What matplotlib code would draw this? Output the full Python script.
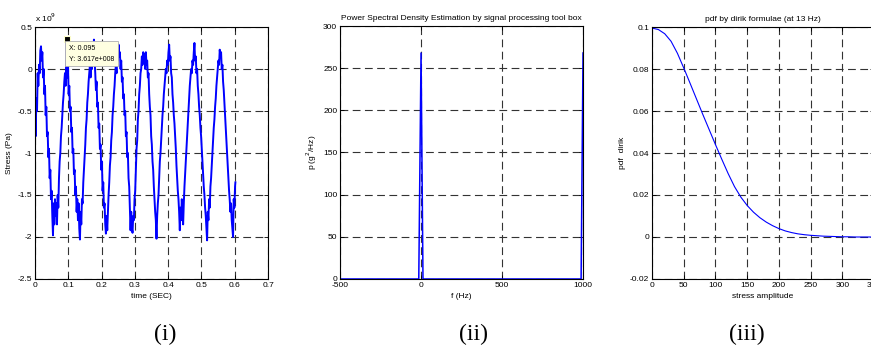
import matplotlib
matplotlib.use("Agg")
import matplotlib.pyplot as plt

plt.rcParams["font.family"] = ["Liberation Sans", "DejaVu Sans"]
plt.rcParams["axes.unicode_minus"] = False

# ===== DATA =====
# (i) stress time history, stress in units of 1e9 Pa
time_sec = [
    0.000, 0.002, 0.004, 0.006, 0.008, 0.010, 0.012, 0.014, 0.016, 0.018,
    0.020, 0.022, 0.024, 0.026, 0.028, 0.030, 0.032, 0.034, 0.036, 0.038,
    0.040, 0.042, 0.044, 0.046, 0.048, 0.050, 0.052, 0.054, 0.056, 0.058,
    0.060, 0.062, 0.064, 0.066, 0.068, 0.070, 0.072, 0.074, 0.076, 0.078,
    0.080, 0.082, 0.084, 0.086, 0.088, 0.090, 0.092, 0.094, 0.095, 0.097,
    0.099, 0.101, 0.103, 0.105, 0.107, 0.109, 0.111, 0.113, 0.115, 0.117,
    0.119, 0.121, 0.123, 0.125, 0.127, 0.129, 0.131, 0.133, 0.135, 0.137,
    0.139, 0.141, 0.143, 0.145, 0.147, 0.149, 0.151, 0.153, 0.155, 0.157,
    0.159, 0.161, 0.163, 0.165, 0.167, 0.169, 0.171, 0.173, 0.175, 0.177,
    0.179, 0.181, 0.183, 0.185, 0.187, 0.189, 0.191, 0.193, 0.195, 0.197,
    0.199, 0.201, 0.203, 0.205, 0.207, 0.209, 0.211, 0.213, 0.215, 0.217,
    0.219, 0.221, 0.223, 0.225, 0.227, 0.229, 0.231, 0.233, 0.235, 0.237,
    0.239, 0.241, 0.243, 0.245, 0.247, 0.249, 0.251, 0.253, 0.255, 0.257,
    0.259, 0.261, 0.263, 0.265, 0.267, 0.269, 0.271, 0.273, 0.275, 0.277,
    0.279, 0.281, 0.283, 0.285, 0.287, 0.289, 0.291, 0.293, 0.295, 0.297,
    0.299, 0.301, 0.303, 0.305, 0.307, 0.309, 0.311, 0.313, 0.315, 0.317,
    0.319, 0.321, 0.323, 0.325, 0.327, 0.329, 0.331, 0.333, 0.335, 0.337,
    0.339, 0.341, 0.343, 0.345, 0.347, 0.349, 0.351, 0.353, 0.355, 0.357,
    0.359, 0.361, 0.363, 0.365, 0.367, 0.369, 0.371, 0.373, 0.375, 0.377,
    0.379, 0.381, 0.383, 0.385, 0.387, 0.389, 0.391, 0.393, 0.395, 0.397,
    0.399, 0.401, 0.403, 0.405, 0.407, 0.409, 0.411, 0.413, 0.415, 0.417,
    0.419, 0.421, 0.423, 0.425, 0.427, 0.429, 0.431, 0.433, 0.435, 0.437,
    0.439, 0.441, 0.443, 0.445, 0.447, 0.449, 0.451, 0.453, 0.455, 0.457,
    0.459, 0.461, 0.463, 0.465, 0.467, 0.469, 0.471, 0.473, 0.475, 0.477,
    0.479, 0.481, 0.483, 0.485, 0.487, 0.489, 0.491, 0.493, 0.495, 0.497,
    0.499, 0.501, 0.503, 0.505, 0.507, 0.509, 0.511, 0.513, 0.515, 0.517,
    0.519, 0.521, 0.523, 0.525, 0.527, 0.529, 0.531, 0.533, 0.535, 0.537,
    0.539, 0.541, 0.543, 0.545, 0.547, 0.549, 0.551, 0.553, 0.555, 0.557,
    0.559, 0.561, 0.563, 0.565, 0.567, 0.569, 0.571, 0.573, 0.575, 0.577,
    0.579, 0.581, 0.583, 0.585, 0.587, 0.589, 0.591, 0.593, 0.595, 0.597,
    0.599, 0.601, 0.602,
]
stress_e9 = [
    -0.55, -0.80, -0.35, -0.50, -0.05, -0.20, 0.05, -0.05, 0.22, 0.27,
    0.10, 0.20, -0.10, 0.00, -0.30, -0.20, -0.55, -0.45, -0.80, -0.75,
    -1.05, -0.95, -1.30, -1.20, -1.55, -1.45, -1.75, -1.98, -1.60, -1.85,
    -1.55, -1.75, -1.60, -1.85, -1.50, -1.65, -1.30, -1.10, -1.00, -0.80,
    -0.70, -0.55, -0.40, -0.30, -0.15, -0.05, -0.20, 0.20, 0.36, -0.10,
    0.05, -0.30, -0.20, -0.50, -0.45, -0.75, -0.70, -1.00, -0.95, -1.25,
    -1.20, -1.50, -1.40, -1.70, -1.55, -1.80, -1.60, -1.90, -2.03, -1.70,
    -1.85, -1.55, -1.60, -1.35, -1.20, -1.05, -0.90, -0.70, -0.60, -0.40,
    -0.30, -0.15, -0.05, 0.05, -0.10, 0.15, 0.00, 0.20, 0.05, 0.35,
    0.10, -0.05, -0.25, -0.15, -0.45, -0.40, -0.70, -0.65, -0.95, -0.90,
    -1.20, -1.10, -1.45, -1.35, -1.65, -1.60, -1.85, -1.96, -1.75, -1.92,
    -1.70, -1.50, -1.35, -1.15, -1.05, -0.85, -0.75, -0.55, -0.45, -0.30,
    -0.20, -0.05, 0.05, -0.05, 0.20, 0.10, 0.29, 0.15, 0.20, 0.00,
    0.10, -0.15, -0.10, -0.35, -0.30, -0.55, -0.50, -0.80, -0.75, -1.05,
    -1.00, -1.30, -1.40, -1.65, -1.92, -1.70, -1.90, -1.95, -1.75, -1.80,
    -1.55, -1.45, -1.20, -0.95, -0.85, -0.60, -0.50, -0.30, -0.20, -0.05,
    0.00, 0.15, 0.05, 0.20, 0.10, 0.18, 0.00, 0.20, 0.05, 0.10,
    -0.10, -0.05, -0.30, -0.45, -0.55, -0.80, -0.90, -1.10, -1.20, -1.40,
    -1.55, -1.70, -1.80, -2.02, -1.75, -1.60, -1.50, -1.30, -1.10, -1.00,
    -0.85, -0.70, -0.55, -0.45, -0.30, -0.20, -0.10, 0.00, -0.05, 0.10,
    0.05, 0.20, 0.29, 0.10, 0.15, -0.05, -0.10, -0.30, -0.40, -0.55,
    -0.65, -0.80, -0.95, -1.15, -1.30, -1.45, -1.55, -1.70, -1.92, -1.65,
    -1.80, -1.55, -1.70, -1.85, -1.60, -1.40, -1.25, -1.10, -0.95, -0.80,
    -0.65, -0.50, -0.35, -0.20, -0.10, 0.00, -0.05, 0.10, 0.05, 0.20,
    0.31, 0.10, 0.15, -0.05, 0.00, -0.20, -0.30, -0.45, -0.55, -0.70,
    -0.80, -0.95, -1.10, -1.25, -1.40, -1.50, -1.65, -1.75, -1.90, -2.04,
    -1.70, -1.80, -1.55, -1.65, -1.40, -1.30, -1.15, -1.00, -0.85, -0.70,
    -0.60, -0.45, -0.35, -0.20, -0.10, 0.00, 0.10, 0.05, 0.23, 0.15,
    0.20, 0.00, 0.05, -0.15, -0.25, -0.40, -0.55, -0.70, -0.85, -1.00,
    -1.15, -1.30, -1.45, -1.56, -1.70, -1.60, -1.80, -1.90, -2.00, -1.55,
    -1.65, -1.40, -1.35,
]
datatip_x = 0.095
datatip_y = 0.3617  # x 1e9

# (ii) power spectral density
psd_freq = [-500, -14, 0, 12, 988, 1000]
psd_val = [0, 0, 268, 0, 0, 268]

# (iii) pdf by dirlik formula
amp = [0, 10, 20, 30, 40, 50, 60, 70, 80, 90, 100, 110, 120, 130, 140, 150,
       160, 170, 180, 190, 200, 210, 220, 230, 240, 250, 260, 270, 280, 290,
       300, 310, 320, 330, 340, 350]
pdf = [0.0995, 0.0988, 0.0968, 0.0932, 0.0875, 0.0805, 0.0732, 0.0658, 0.0584, 0.0512,
       0.0440, 0.0370, 0.0302, 0.0240, 0.0190, 0.0150, 0.0118, 0.0092, 0.0071, 0.0054,
       0.0040, 0.0029, 0.0021, 0.0015, 0.0011, 0.0008, 0.0006, 0.0004, 0.0003, 0.0002,
       0.0001, 0.0001, 0.0, 0.0, 0.0, 0.0]

FS = 6
GRID = dict(color="#333333", linestyle=(0, (7, 4)), linewidth=0.8)


def style_axes(ax):
    ax.tick_params(direction="in", length=3, width=0.6, labelsize=FS,
                   top=True, right=True, pad=2)
    for s in ax.spines.values():
        s.set_linewidth(0.8)
    ax.grid(True, **GRID)


fig = plt.figure(figsize=(8.71, 3.49), dpi=100)

# ---- (i) stress history ----
ax1 = fig.add_axes([0.0402, 0.2006, 0.2675, 0.7220])
ax1.plot(time_sec, stress_e9, color="#0000ff", linewidth=1.4)
ax1.set_xlim(0, 0.7)
ax1.set_ylim(-2.5, 0.5)
ax1.set_xticks([0, 0.1, 0.2, 0.3, 0.4, 0.5, 0.6, 0.7])
ax1.set_xticklabels(["0", "0.1", "0.2", "0.3", "0.4", "0.5", "0.6", "0.7"])
ax1.set_yticks([-2.5, -2, -1.5, -1, -0.5, 0, 0.5])
ax1.set_yticklabels(["-2.5", "-2", "-1.5", "-1", "-0.5", "0", "0.5"])
style_axes(ax1)
ax1.set_xlabel("time (SEC)", fontsize=FS, labelpad=3)
ax1.set_ylabel("Stress (Pa)", fontsize=FS, labelpad=3)
ax1.text(0.0, 1.012, r"x 10$^9$", transform=ax1.transAxes, fontsize=FS,
         ha="left", va="bottom")
# data tip
ax1.plot([datatip_x], [datatip_y], marker="s", markersize=4.5, color="black",
         markeredgecolor="#ffffcc", markeredgewidth=0.8, zorder=5)
ax1.text(datatip_x + 0.007, datatip_y - 0.07,
         "X: 0.095\nY: 3.617e+008", fontsize=5, va="top", ha="left",
         linespacing=1.8, zorder=6,
         bbox=dict(boxstyle="square,pad=0.5", facecolor="#ffffe1",
                   edgecolor="#b0b0b0", linewidth=0.6))

# ---- (ii) PSD ----
ax2 = fig.add_axes([0.3904, 0.2006, 0.2790, 0.7249])
ax2.plot(psd_freq, psd_val, color="#0000ff", linewidth=1.1)
ax2.set_xlim(-500, 1000)
ax2.set_ylim(0, 300)
ax2.set_xticks([-500, 0, 500, 1000])
ax2.set_yticks([0, 50, 100, 150, 200, 250, 300])
style_axes(ax2)
ax2.set_xlabel("f (Hz)", fontsize=FS, labelpad=3)
ax2.set_ylabel(r"p (g$^2$/Hz)", fontsize=FS, labelpad=3)
ax2.set_title("Power Spectral Density Estimation by signal processing tool box",
              fontsize=FS, pad=4)

# ---- (iii) pdf ----
ax3 = fig.add_axes([0.7486, 0.2006, 0.2549, 0.7220])
ax3.plot(amp, pdf, color="#0000ff", linewidth=0.8)
ax3.set_xlim(0, 350)
ax3.set_ylim(-0.02, 0.1)
ax3.set_xticks([0, 50, 100, 150, 200, 250, 300, 350])
ax3.set_yticks([-0.02, 0, 0.02, 0.04, 0.06, 0.08, 0.1])
ax3.set_yticklabels(["-0.02", "0", "0.02", "0.04", "0.06", "0.08", "0.1"])
style_axes(ax3)
ax3.set_xlabel("stress amplitude", fontsize=FS, labelpad=3)
ax3.set_ylabel("pdf  dirik", fontsize=FS, labelpad=3)
ax3.set_title("pdf by dirik formulae (at 13 Hz)", fontsize=FS, pad=4)

# panel captions
for x, lab in [(165, "(i)"), (473, "(ii)"), (747, "(iii)")]:
    fig.text(x / 871, 1 - 334 / 349, lab, fontsize=17, ha="center", va="center",
             family=["Liberation Serif", "DejaVu Serif"])

fig.savefig("out.png", dpi=100)
